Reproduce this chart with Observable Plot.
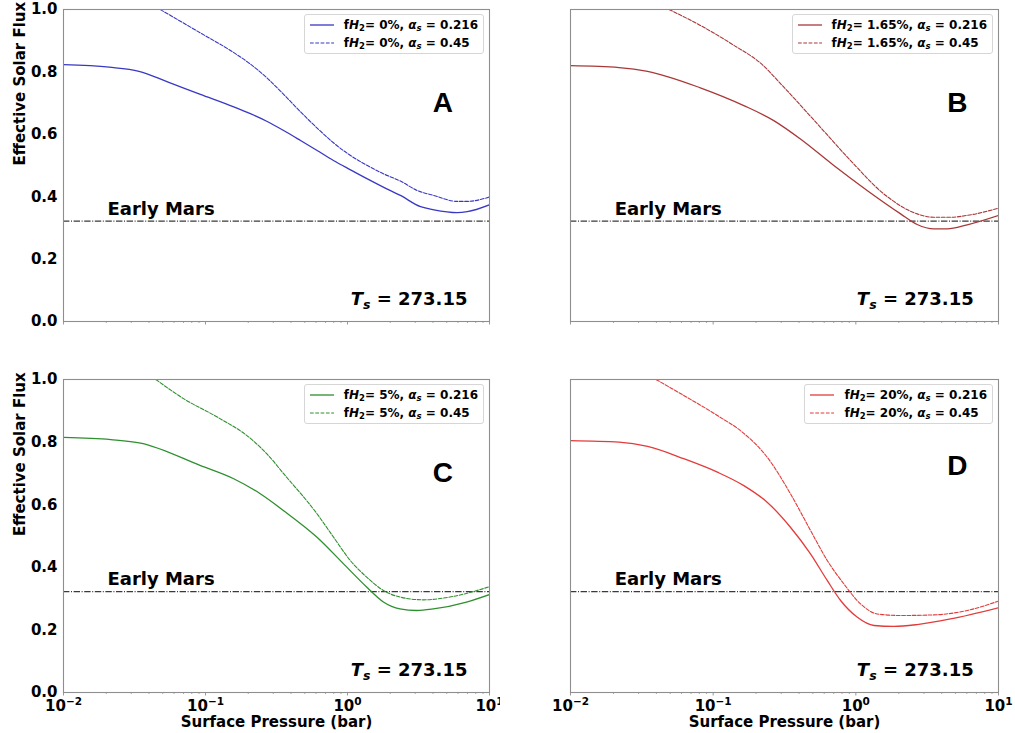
<!DOCTYPE html>
<html><head><meta charset="utf-8">
<script src="https://cdn.jsdelivr.net/npm/d3@7"></script>
<script src="https://cdn.jsdelivr.net/npm/@observablehq/plot@0.6"></script>
<style>
body{margin:0;background:#fff;}
#fig{position:relative;width:1015px;height:733px;overflow:hidden;background:#fff;font-family:"DejaVu Sans",sans-serif;}
.panel{position:absolute;overflow:hidden;}
.legend{position:absolute;background:rgba(255,255,255,0.85);border:1px solid #d6d6d6;border-radius:3px;padding:1px 5px 1px 5px;font:bold 12px "DejaVu Sans",sans-serif;line-height:18px;white-space:nowrap;color:#000;}
.legend .row{display:flex;align-items:center;height:18px;}
.legend svg{margin-right:10px;flex:none;}
.legend sub{font-size:8.5px;line-height:0;vertical-align:-2px;}
</style></head><body><div id="fig"></div><script>
// ---------- data ----------
const yTicks = [0, 0.2, 0.4, 0.6, 0.8, 1.0];
const xMajorTicks = [0.01, 0.1, 1, 10];
const xTickExponents = ["−2", "−1", "0", "1"];
const xMinorTicks = [0.02,0.03,0.04,0.05,0.06,0.07,0.08,0.09,0.2,0.3,0.4,0.5,0.6,0.7,0.8,0.9,2,3,4,5,6,7,8,9];
const earlyMarsFlux = 0.322;
const earlyMarsLabel = "Early Mars";
const surfaceTemp = "273.15";
const panelLetters = ["A", "B", "C", "D"];
const fH2Labels = ["0%", "1.65%", "5%", "20%"];
const albedoLabels = ["0.216", "0.45"];
const seriesColors = ["#3838c4", "#a83838", "#2e8f2e", "#e33b3b"];
const yAxisLabel = "Effective Solar Flux";
const xAxisLabel = "Surface Pressure (bar)";

// Panel A (fH2 = 0%)
const A_solid_p = [0.01,0.021,0.034,0.054,0.092,0.158,0.207,0.272,0.355,0.467,0.611,0.796,1.05,1.38,1.8,2.36,3.27,4.06,5.92,6.97,10];
const A_solid_flux = [0.823,0.815,0.802,0.768,0.728,0.688,0.666,0.641,0.612,0.580,0.548,0.516,0.486,0.457,0.430,0.404,0.368,0.358,0.349,0.352,0.374];
const A_dashed_p = [0.048,0.092,0.158,0.207,0.272,0.355,0.467,0.611,0.796,1.05,1.38,1.8,2.36,3.09,4.06,5.92,6.97,10];
const A_dashed_flux = [1.0,0.925,0.862,0.825,0.780,0.728,0.672,0.620,0.573,0.532,0.500,0.473,0.450,0.420,0.404,0.385,0.385,0.399];
// Panel B (fH2 = 1.65%)
const B_solid_p = [0.01,0.0219,0.0347,0.0813,0.164,0.266,0.409,0.701,1.2,2.06,2.69,3.52,4.37,6.03,10];
const B_solid_flux = [0.820,0.814,0.802,0.749,0.692,0.644,0.585,0.500,0.420,0.345,0.311,0.297,0.297,0.310,0.340];
const B_dashed_p = [0.049,0.0813,0.140,0.215,0.313,0.536,0.918,1.57,2.69,3.52,4.61,6.03,10];
const B_dashed_flux = [1.0,0.949,0.885,0.828,0.751,0.634,0.516,0.409,0.345,0.334,0.334,0.340,0.363];
// Panel C (fH2 = 5%)
const C_solid_p = [0.01,0.0215,0.0349,0.0923,0.158,0.243,0.355,0.61,0.938,1.37,1.79,2.34,3.07,4.02,6.89,10];
const C_solid_flux = [0.815,0.808,0.797,0.725,0.683,0.635,0.581,0.496,0.411,0.336,0.289,0.267,0.262,0.267,0.289,0.313];
const C_dashed_p = [0.0447,0.0705,0.121,0.207,0.28,0.355,0.61,0.798,1.045,1.37,1.79,2.34,3.42,5.26,10];
const C_dashed_flux = [1.0,0.938,0.880,0.812,0.755,0.699,0.571,0.496,0.422,0.368,0.326,0.305,0.296,0.305,0.338];
// Panel D (fH2 = 20%)
const D_solid_p = [0.01,0.0219,0.0347,0.0622,0.107,0.164,0.239,0.348,0.481,0.63,0.782,1.02,1.34,1.85,2.69,4.61,10];
const D_solid_flux = [0.805,0.800,0.786,0.747,0.704,0.661,0.608,0.528,0.443,0.358,0.294,0.241,0.214,0.211,0.217,0.235,0.271];
const D_dashed_p = [0.0398,0.0622,0.107,0.164,0.239,0.348,0.481,0.63,0.824,1.08,1.41,2.06,3.52,6.03,10];
const D_dashed_flux = [1.0,0.949,0.885,0.828,0.752,0.635,0.518,0.422,0.347,0.283,0.251,0.246,0.248,0.262,0.292];

// ---------- layout ----------
const layout = [
  {left:0,   top:0,   width:500, height:340, mL:63, mR:11, mT:9, mB:19, yLab:true,  xLab:false, letter:[4.7,0.70],  tsX:7.0, sp:A_solid_p, sv:A_solid_flux, dp:A_dashed_p, dv:A_dashed_flux},
  {left:500, top:0,   width:515, height:340, mL:70, mR:17, mT:9, mB:19, yLab:false, xLab:false, letter:[5.15,0.70], tsX:6.7, sp:B_solid_p, sv:B_solid_flux, dp:B_dashed_p, dv:B_dashed_flux},
  {left:0,   top:370, width:500, height:363, mL:63, mR:11, mT:9, mB:41, yLab:true,  xLab:true,  letter:[4.7,0.70],  tsX:7.0, sp:C_solid_p, sv:C_solid_flux, dp:C_dashed_p, dv:C_dashed_flux},
  {left:500, top:370, width:515, height:363, mL:70, mR:17, mT:9, mB:41, yLab:false, xLab:true,  letter:[5.15,0.725],tsX:6.7, sp:D_solid_p, sv:D_solid_flux, dp:D_dashed_p, dv:D_dashed_flux}
];

const fig = document.getElementById("fig");
const NS = "http://www.w3.org/2000/svg";
const tsText = "Ts = " + surfaceTemp;

function tspan(text, attrs) {
  const s = document.createElementNS(NS, "tspan");
  for (const k in attrs) s.setAttribute(k, attrs[k]);
  s.textContent = text;
  return s;
}

layout.forEach((cfg, i) => {
  const color = seriesColors[i];
  const solid = cfg.sp.map((p, j) => ({p, v: cfg.sv[j]}));
  const dashed = cfg.dp.map((p, j) => ({p, v: cfg.dv[j]}));
  const marks = [
    Plot.ruleY([earlyMarsFlux], {stroke: "#3a3a3a", strokeWidth: 1.2, strokeDasharray: "6.4,1.6,1,1.6"}),
    Plot.line(solid, {x: "p", y: "v", stroke: color, strokeWidth: 1.3, curve: "monotone-x", clip: true}),
    Plot.line(dashed, {x: "p", y: "v", stroke: color, strokeWidth: 1.1, strokeDasharray: "3.7,1.6", curve: "monotone-x", clip: true}),
    Plot.text([{x: 0.0204, y: earlyMarsFlux, t: earlyMarsLabel}], {x: "x", y: "y", text: "t", dy: -12, textAnchor: "start", fontSize: 18, fontWeight: "bold", fill: "#000"}),
    Plot.text([{x: cfg.letter[0], y: cfg.letter[1], t: panelLetters[i]}], {x: "x", y: "y", text: "t", fontSize: 28, fontWeight: "bold", fontFamily: "Liberation Sans, Arial, sans-serif", fill: "#000"}),
    Plot.text([{x: cfg.tsX, y: 0.07, t: tsText}], {x: "x", y: "y", text: "t", textAnchor: "end", fontSize: 18, fontWeight: "bold", fill: "#000"}),
    Plot.axisX({ticks: xMinorTicks, tickSize: 2, tickFormat: () => "", stroke: "#aaa", label: null}),
    Plot.axisX({ticks: xMajorTicks, tickSize: 3.5, tickPadding: 4,
      tickFormat: cfg.xLab ? (d => "10^" + xTickExponents[xMajorTicks.indexOf(d)]) : (() => ""),
      stroke: "#999", fill: "#000", fontSize: 15, fontWeight: "bold", label: null}),
    Plot.axisY({ticks: yTicks, tickSize: 0, tickPadding: 6,
      tickFormat: cfg.yLab ? d3.format(".1f") : (() => ""),
      fill: "#000", fontSize: 15, fontWeight: "bold", label: null}),
    Plot.frame({stroke: "#8e8e8e", strokeWidth: 1.1})
  ];
  if (cfg.yLab) marks.push(Plot.text([yAxisLabel], {frameAnchor: "left", dx: -43, rotate: -90, lineAnchor: "middle", fontSize: 15, fontWeight: "bold", fill: "#000"}));
  if (cfg.xLab) marks.push(Plot.text([xAxisLabel], {frameAnchor: "bottom", dy: 30, lineAnchor: "middle", fontSize: 15, fontWeight: "bold", fill: "#000"}));

  const svg = Plot.plot({
    width: cfg.width, height: cfg.height,
    marginLeft: cfg.mL, marginRight: cfg.mR, marginTop: cfg.mT, marginBottom: cfg.mB,
    style: {background: "white", fontFamily: "DejaVu Sans, sans-serif", overflow: "hidden"},
    x: {type: "log", domain: [0.01, 10]},
    y: {domain: [0, 1]},
    marks
  });

  svg.querySelectorAll("text").forEach(t => {
    const s = t.textContent;
    if (s === tsText) {
      t.textContent = "";
      t.append(tspan("T", {"font-style": "italic"}),
               tspan("s", {"font-style": "italic", "font-size": "12.5", dy: "4"}),
               tspan(" = " + surfaceTemp, {dy: "-4"}));
    } else if (s.startsWith("10^")) {
      t.textContent = "";
      t.append(tspan("10", {}), tspan(s.slice(3), {"font-size": "10.5", dy: "-6"}));
    }
  });

  const div = document.createElement("div");
  div.className = "panel";
  Object.assign(div.style, {left: cfg.left + "px", top: cfg.top + "px", width: cfg.width + "px", height: cfg.height + "px"});
  div.appendChild(svg);

  const leg = document.createElement("div");
  leg.className = "legend";
  leg.style.right = (cfg.mR + 5) + "px";
  leg.style.top = (cfg.mT + 5) + "px";
  albedoLabels.forEach((al, k) => {
    const row = document.createElement("div");
    row.className = "row";
    row.innerHTML = `<svg width="24" height="4"><line x1="0" y1="2" x2="24" y2="2" stroke="${color}" stroke-width="${k ? 1.1 : 1.3}" ${k ? 'stroke-dasharray="3.7,1.6"' : ''}/></svg>` +
      `<span>f<i>H</i><sub>2</sub>= ${fH2Labels[i]}, <i>α<sub>s</sub></i> = ${al}</span>`;
    leg.appendChild(row);
  });
  div.appendChild(leg);
  fig.appendChild(div);
});
</script></body></html>
